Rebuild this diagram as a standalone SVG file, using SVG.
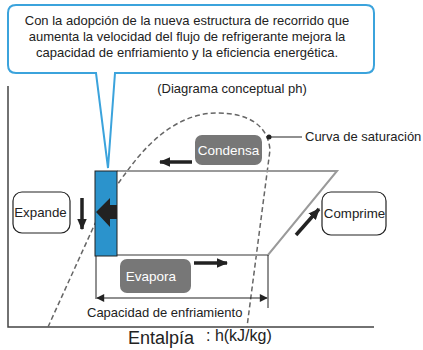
<svg xmlns="http://www.w3.org/2000/svg" width="423" height="350" viewBox="0 0 423 350">
<defs>
<style>
text{font-family:"Liberation Sans",Arial,sans-serif;fill:#222}
.cyc{stroke:#9a9a9a;stroke-width:2;fill:none}
.ax{stroke:#444;stroke-width:1.5;fill:none}
.blk{stroke:#222;stroke-width:3.5;fill:none}
.gbox{fill:#777}
.wbox{fill:#fff;stroke:#222;stroke-width:1.2}
.wt{fill:#fff;font-size:13.5px}
.bt{font-size:13px}
</style>
<marker id="ah" viewBox="0 0 10 10" refX="9" refY="5" markerWidth="3.3" markerHeight="2.8" orient="auto" preserveAspectRatio="none"><path d="M0,0 L10,5 L0,10 Z" fill="#222"/></marker>
<marker id="sa" viewBox="0 0 10 10" refX="9" refY="5" markerWidth="10" markerHeight="8" markerUnits="userSpaceOnUse" orient="auto-start-reverse"><path d="M0,0 L10,5 L0,10 Z" fill="#222"/></marker>
</defs>
<rect width="423" height="350" fill="#fff"/>
<g id="axes">
<path class="ax" d="M8,86 V327 H374"/>
<text x="128" y="344" font-size="18">Entalpía</text>
<text x="206" y="341" font-size="16">: h(kJ/kg)</text>
</g>
<text id="title" x="232" y="93" class="bt" text-anchor="middle">(Diagrama conceptual ph)</text>
<g id="saturation">
<path d="M48,327 L93,228 C105,202 118,183 128,170 C155,133 185,113 217,113 C248,113 268,125 270,150 L247,327" fill="none" stroke="#666" stroke-width="1.5" stroke-dasharray="5,3"/>
<circle cx="269" cy="137" r="2.5" fill="#222"/>
<line x1="269" y1="137" x2="302" y2="137" stroke="#222" stroke-width="1.2"/>
<text x="305" y="141" class="bt">Curva de saturación</text>
</g>
<g id="connectors">
<path class="cyc" d="M117,171 H337 L268,255 H117"/>
<line x1="96" y1="256" x2="96" y2="299" stroke="#222" stroke-width="1"/>
<line x1="268" y1="255" x2="268" y2="308" stroke="#222" stroke-width="1"/>
<line x1="97" y1="298" x2="267" y2="298" stroke="#222" stroke-width="1.2" marker-start="url(#sa)" marker-end="url(#sa)"/>
<line class="blk" x1="192" y1="162" x2="160" y2="162" marker-end="url(#ah)"/>
<line class="blk" x1="194" y1="263" x2="227" y2="263" marker-end="url(#ah)"/>
<line class="blk" x1="82" y1="198" x2="82" y2="229" marker-end="url(#ah)"/>
<line class="blk" x1="296" y1="235" x2="319" y2="209" marker-end="url(#ah)"/>
</g>
<g id="valve">
<rect x="95" y="171" width="22" height="85" fill="#2b93cc" stroke="#222" stroke-width="1"/>
<path d="M96,212 L110,198 V205 H117 V219 H110 V227 Z" fill="#222"/>
</g>
<g id="callout">
<path d="M16,5 H366 Q374,5 374,13 V65 Q374,73 366,73 H115 L108,168 L96,73 H16 Q8,73 8,65 V13 Q8,5 16,5 Z" fill="#fff" stroke="#3ba3dc" stroke-width="2"/>
<text x="187" y="25" class="bt" text-anchor="middle">Con la adopción de la nueva estructura de recorrido que</text>
<text x="187" y="41" class="bt" text-anchor="middle">aumenta la velocidad del flujo de refrigerante mejora la</text>
<text x="187" y="57" class="bt" text-anchor="middle">capacidad de enfriamiento y la eficiencia energética.</text>
</g>
<g id="condensa">
<rect class="gbox" x="195" y="135" width="67" height="30" rx="7"/>
<text class="wt" x="228.5" y="155" text-anchor="middle">Condensa</text>
</g>
<g id="evapora">
<rect class="gbox" x="120" y="259" width="71" height="34" rx="7"/>
<text class="wt" x="151" y="281" text-anchor="middle">Evapora</text>
</g>
<g id="expande">
<rect class="wbox" x="13" y="192" width="57" height="41" rx="9"/>
<text x="40.5" y="217" font-size="13.3" text-anchor="middle">Expande</text>
</g>
<g id="comprime">
<rect class="wbox" x="322" y="192" width="64" height="43" rx="9"/>
<text x="354.5" y="218" font-size="13.3" text-anchor="middle">Comprime</text>
</g>
<text id="capacity" x="87" y="317" class="bt">Capacidad de enfriamiento</text>
</svg>
